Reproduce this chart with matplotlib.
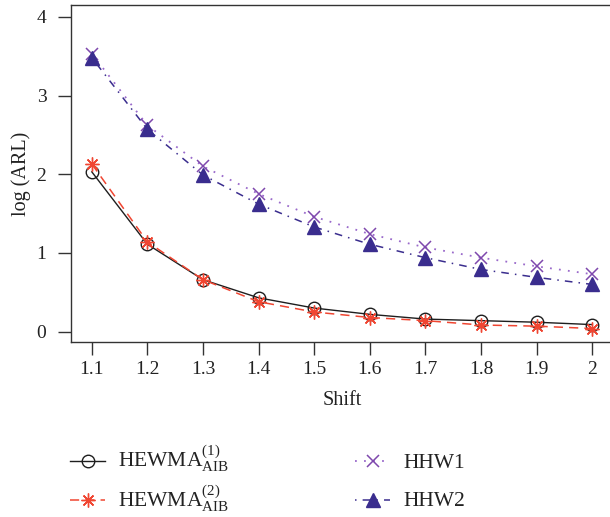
import matplotlib
matplotlib.use("Agg")
import matplotlib.pyplot as plt
from matplotlib.lines import Line2D

# ARL comparison of the charts over the shift size
shift = [1.1, 1.2, 1.3, 1.4, 1.5, 1.6, 1.7, 1.8, 1.9, 2.0]
hewma1 = [2.03, 1.11, 0.66, 0.43, 0.30, 0.22, 0.16, 0.14, 0.12, 0.09]
hewma2 = [2.13, 1.14, 0.66, 0.38, 0.25, 0.18, 0.14, 0.085, 0.07, 0.04]
hhw1 = [3.53, 2.62, 2.10, 1.75, 1.46, 1.24, 1.07, 0.94, 0.83, 0.73]
hhw2 = [3.48, 2.57, 1.99, 1.62, 1.33, 1.11, 0.94, 0.79, 0.69, 0.60]

labels = [r"HEWMA$_{\mathrm{AIB}}^{(1)}$", r"HEWMA$_{\mathrm{AIB}}^{(2)}$", "HHW1", "HHW2"]
xticks = [1.1, 1.2, 1.3, 1.4, 1.5, 1.6, 1.7, 1.8, 1.9, 2.0]
xticklabels = ["1.1", "1.2", "1.3", "1.4", "1.5", "1.6", "1.7", "1.8", "1.9", "2"]
yticks = [0, 1, 2, 3, 4]

plt.rcParams["font.family"] = ["Liberation Serif", "DejaVu Serif"]
plt.rcParams["mathtext.fontset"] = "custom"
plt.rcParams["mathtext.rm"] = "Liberation Serif"
plt.rcParams["mathtext.it"] = "Liberation Serif:italic"
plt.rcParams["mathtext.bf"] = "Liberation Serif:bold"

FS = 14
W, H = 610, 517
fig = plt.figure(figsize=(W / 100, H / 100), dpi=100)
ax = fig.add_axes([70.7 / W, 1 - 342.3 / H, (613.4 - 70.7) / W, (342.3 - 5) / H])

black = "#1e1e1e"
red = "#f04632"
purple = "#7e48ad"
purple_line = "#9a6acb"
navy = "#3a2d8e"

styles = [
    dict(color=black, lw=1.0, linestyle="-", marker="o", markersize=9,
         markerfacecolor="none", markeredgecolor=black, markeredgewidth=1.0),
    dict(color=red, lw=1.1, linestyle=(0, (6, 4)), marker=(8, 2, 0),
         markersize=10, markeredgecolor=red, markeredgewidth=1.0),
    dict(color=purple_line, lw=1.3, linestyle=(0, (1, 4)), marker="x",
         markersize=8.5, markeredgecolor=purple, markeredgewidth=1.1),
    dict(color=navy, lw=1.1, linestyle=(0, (1, 4, 5, 4)), marker="^",
         markersize=10.5, markerfacecolor=navy, markeredgecolor=navy),
]
series = [hewma1, hewma2, hhw1, hhw2]
zorders = [3, 4, 3, 3]

for vals, st, z, lab in zip(series, styles, zorders, labels):
    ax.plot(shift, vals, label=lab, zorder=z, **st)

ax.set_xlim(1.062, 2.038)
ax.set_ylim(-0.135, 4.15)
ax.set_xticks(xticks)
ax.set_xticklabels(xticklabels)
ax.set_yticks(yticks)

for side in ["left", "bottom", "top"]:
    ax.spines[side].set_color("#333333")
    ax.spines[side].set_linewidth(1.0)
ax.spines["right"].set_visible(False)

ax.tick_params(axis="both", direction="out", length=9.5, width=1.0,
               color="#333333", labelsize=FS, labelcolor="#222222")
ax.tick_params(axis="x", pad=4)
ax.tick_params(axis="y", pad=8)

ax.set_xlabel("Shift", fontsize=FS + 0.5, color="#222222", labelpad=9)
ax.set_ylabel("log (ARL)", fontsize=FS + 0.5, color="#222222", labelpad=4)

# Legend below the plot: two columns, rows aligned on a common baseline
col_x = [70, 355]          # handle start (px)
row_y = [461, 500]         # handle centre line (px)
handle_len = 35
text_gap = 13
LFS = 15.5
for i, (st, lab) in enumerate(zip(styles, labels)):
    c, r = divmod(i, 2)
    x0 = col_x[c]
    y = row_y[r]
    xs = [x0 / W, (x0 + handle_len / 2) / W, (x0 + handle_len) / W]
    ys = [1 - y / H] * 3
    ln = Line2D(xs, ys, transform=fig.transFigure, markevery=[1], **st)
    fig.add_artist(ln)
    fig.text((x0 + handle_len + text_gap) / W, 1 - (y + 6.5) / H, lab,
             fontsize=LFS, color="#222222", ha="left", va="baseline")

fig.savefig("out.png", dpi=100)
